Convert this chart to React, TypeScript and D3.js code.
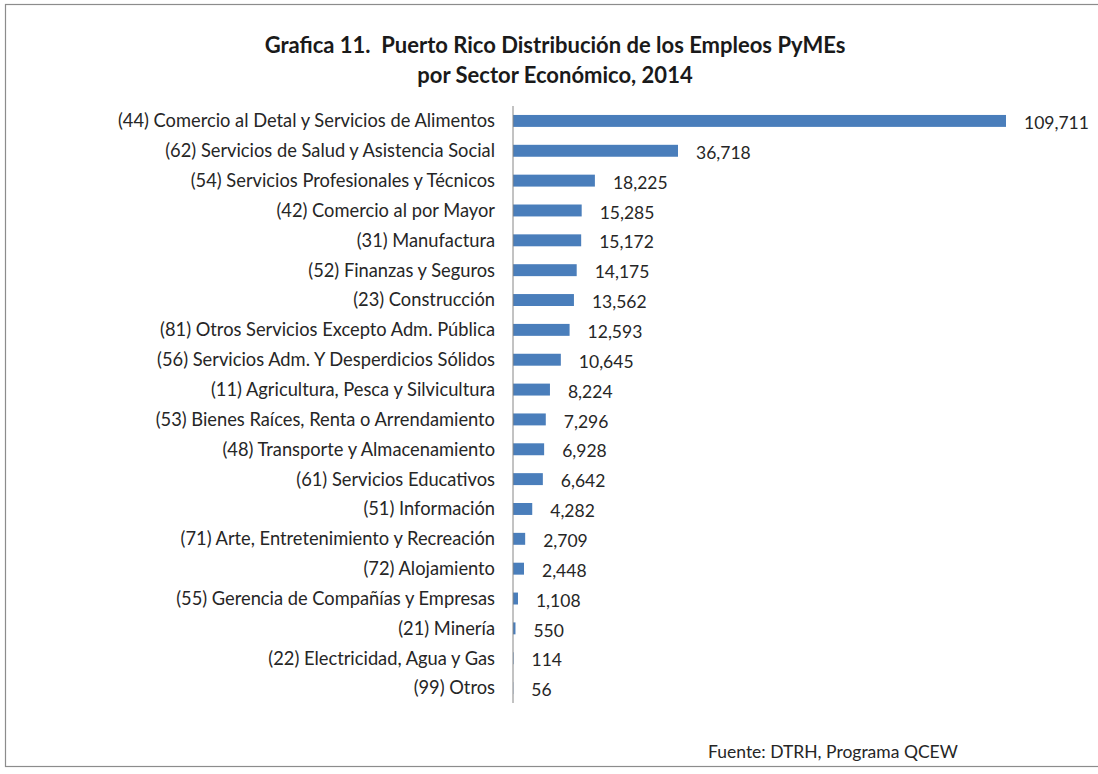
import React from "react";
import * as d3 from "d3";

const categories = [
  "(44) Comercio al Detal y Servicios de Alimentos",
  "(62) Servicios de Salud y Asistencia Social",
  "(54) Servicios Profesionales y Técnicos",
  "(42) Comercio al por Mayor",
  "(31) Manufactura",
  "(52) Finanzas y Seguros",
  "(23) Construcción",
  "(81) Otros Servicios Excepto Adm. Pública",
  "(56) Servicios Adm. Y Desperdicios Sólidos",
  "(11) Agricultura, Pesca y Silvicultura",
  "(53) Bienes Raíces, Renta o Arrendamiento",
  "(48) Transporte y Almacenamiento",
  "(61) Servicios Educativos",
  "(51) Información",
  "(71) Arte, Entretenimiento y Recreación",
  "(72) Alojamiento",
  "(55) Gerencia de Compañías y Empresas",
  "(21) Minería",
  "(22) Electricidad, Agua y Gas",
  "(99) Otros",
];

const values = [
  109711, 36718, 18225, 15285, 15172, 14175, 13562, 12593, 10645, 8224, 7296,
  6928, 6642, 4282, 2709, 2448, 1108, 550, 114, 56,
];

const titleLines = [
  "Grafica 11.  Puerto Rico Distribución de los Empleos PyMEs",
  "por Sector Económico, 2014",
];
const sourceText = "Fuente: DTRH, Programa QCEW";

const W = 1098;
const H = 774;
const FONT = "Lato, 'Open Sans', sans-serif";

export default function App() {
  const x0 = 513;
  const x = d3.scaleLinear().domain([0, 109711]).range([x0, 1006]);
  const y = d3
    .scaleBand<string>()
    .domain(categories)
    .range([106, 703])
    .paddingInner(0.6)
    .paddingOuter(0.3);
  const fmt = d3.format(",");

  return (
    <svg
      width={W}
      height={H}
      style={{ position: "absolute", left: 0, top: 0, background: "#fff" }}
    >
      <rect x={5.5} y={4.5} width={W + 10} height={762} fill="#fff" stroke="#8c8c8c" strokeWidth={1.2} />
      {titleLines.map((t, i) => (
        <text
          key={i}
          x={555}
          y={53 + i * 30}
          textAnchor="middle"
          fontFamily={FONT}
          fontWeight="bold"
          fontSize={22}
          fill="#1a1a1a"
          style={{ whiteSpace: "pre" }}
        >
          {t}
        </text>
      ))}
      {categories.map((c, i) => {
        const yy = y(c)!;
        const bw = y.bandwidth();
        return (
          <g key={c}>
            <rect x={x0} y={yy} width={x(values[i]) - x0} height={bw} fill="#4a7ebb" />
            <text
              x={495}
              y={yy + bw / 2}
              dy="0.35em"
              textAnchor="end"
              fontFamily={FONT}
              fontSize={18.3}
              fill="#262626"
            >
              {c}
            </text>
            <text
              x={x(values[i]) + 18}
              y={yy + bw / 2 + 2}
              dy="0.35em"
              fontFamily={FONT}
              fontSize={17.5}
              fill="#262626"
            >
              {fmt(values[i])}
            </text>
          </g>
        );
      })}
      <line x1={x0} x2={x0} y1={y.range()[0]} y2={y.range()[1]} stroke="#868686" strokeWidth={1} />
      <text x={708} y={758} fontFamily={FONT} fontSize={17.5} fill="#262626">
        {sourceText}
      </text>
    </svg>
  );
}
